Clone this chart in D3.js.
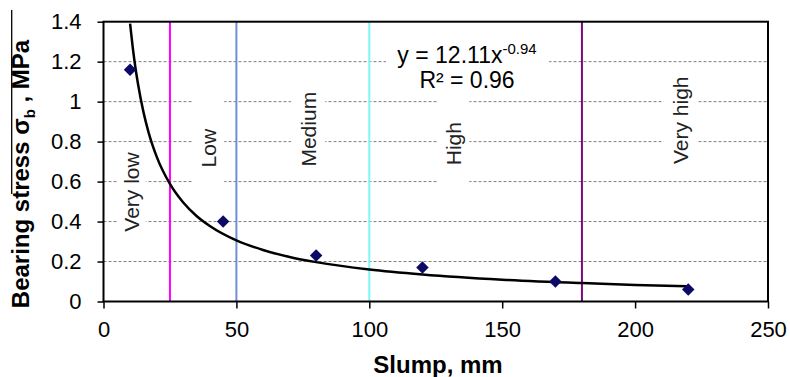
<!DOCTYPE html>
<html>
<head>
<meta charset="UTF-8">
<title>Bearing stress vs slump</title>
<script src="https://cdn.jsdelivr.net/npm/d3@7"></script>
<style>
body { margin: 0; background: #fff; }
svg { display: block; font-family: "Liberation Sans", Arial, sans-serif; }
.grid line { stroke: #808080; stroke-width: 1; stroke-dasharray: 3,2; }
.axis path { display: none; }
.axis line { stroke: #000; stroke-width: 1.5; }
.axis text { font-size: 22px; fill: #000; }
.label { font-size: 21px; fill: #222; }
</style>
</head>
<body>
<svg width="790" height="377"></svg>
<script>
// measured data points
var slump = [10, 45, 80, 120, 170, 220];
var stress = [1.16, 0.40, 0.23, 0.17, 0.10, 0.06];

// power trendline
var trendX = [10, 11, 12, 13, 15, 17, 20, 25, 30, 35, 40, 50, 60, 70, 80, 100, 120, 150, 180, 200, 220];
var trendY = [1.39, 1.271, 1.171, 1.087, 0.950, 0.844, 0.725, 0.588, 0.495, 0.428, 0.378, 0.306, 0.258, 0.223, 0.197, 0.160, 0.135, 0.109, 0.092, 0.083, 0.076];

// slump class boundaries and names
var classLimits = [25, 50, 100, 180];
var classNames = ["Very low", "Low", "Medium", "High", "Very high"];

var xTicks = [0, 50, 100, 150, 200, 250];
var yTicks = [0, 0.2, 0.4, 0.6, 0.8, 1, 1.2, 1.4];
var gridTicks = [0.2, 0.4, 0.6, 0.8, 1, 1.2];

// layout / style
var limitColors = ["#ff00ff", "#6f8fd6", "#7ff5f5", "#7a0a7a"];
var labelPos = [[10.7, 0.548], [39.4, 0.767], [77, 0.862], [131.6, 0.79], [217, 0.907]];
var labelPad = [[14, 16], [16, 17], [17, 38], [16, 28], [17, 42]];

var svg = d3.select("svg");
var x = d3.scaleLinear().domain([0, 250]).range([103.5, 768]);
var y = d3.scaleLinear().domain([0, 1.4]).range([301.5, 21.7]);

// gridlines
svg.append("g").attr("class", "grid")
  .selectAll("line").data(gridTicks).enter().append("line")
  .attr("x1", x(0)).attr("x2", x(250))
  .attr("y1", function(d){ return y(d); })
  .attr("y2", function(d){ return y(d); });

// white boxes behind the class labels
var labels = svg.append("g");
classNames.forEach(function(name, i){
  var cx = x(labelPos[i][0]), cy = y(labelPos[i][1]);
  labels.append("rect")
    .attr("x", cx - labelPad[i][0]).attr("width", 2 * labelPad[i][0])
    .attr("y", cy - 50).attr("height", 100)
    .attr("fill", "#fff");
  labels.append("text")
    .attr("class", "label")
    .attr("transform", "translate(" + cx + "," + cy + ") rotate(-90)")
    .attr("text-anchor", "middle")
    .attr("dy", "0.35em")
    .text(name);
});

// equation box
var eq = svg.append("g");
eq.append("rect").attr("x", 386).attr("y", 42).attr("width", 163).attr("height", 50).attr("fill", "#fff");
var t1 = eq.append("text").attr("x", 467).attr("y", 63).attr("text-anchor", "middle")
  .style("font-size", "23px");
t1.append("tspan").text("y = 12.11x");
t1.append("tspan").attr("dy", -9).style("font-size", "15px").text("-0.94");
eq.append("text").attr("x", 467).attr("y", 88).attr("text-anchor", "middle")
  .style("font-size", "23px").text("R\u00b2 = 0.96");

// class limit lines
svg.append("g").selectAll("line").data(classLimits).enter().append("line")
  .attr("x1", function(d){ return x(d); }).attr("x2", function(d){ return x(d); })
  .attr("y1", y(1.4)).attr("y2", y(0))
  .attr("stroke", function(d, i){ return limitColors[i]; })
  .attr("stroke-width", 2);

// trendline
svg.append("path")
  .attr("d", d3.line()
    .curve(d3.curveMonotoneX)
    .x(function(d, i){ return x(trendX[i]); })
    .y(function(d){ return y(d); })(trendY))
  .attr("fill", "none").attr("stroke", "#000").attr("stroke-width", 2.5);

// points (square turned 45 degrees, as in the original)
svg.append("g").selectAll("path").data(stress).enter().append("path")
  .attr("transform", function(d, i){ return "translate(" + x(slump[i]) + "," + y(d) + ") rotate(45)"; })
  .attr("d", d3.symbol().type(d3.symbolSquare).size(78))
  .attr("fill", "#0c0a66");

// frame
svg.append("rect")
  .attr("x", x(0)).attr("y", y(1.4))
  .attr("width", x(250) - x(0)).attr("height", y(0) - y(1.4))
  .attr("fill", "none").attr("stroke", "#000").attr("stroke-width", 2);

// axes
svg.append("g").attr("class", "axis")
  .attr("transform", "translate(0," + y(0) + ")")
  .call(d3.axisBottom(x).tickValues(xTicks).tickSize(7).tickPadding(13).tickFormat(d3.format("d")));
svg.append("g").attr("class", "axis")
  .attr("transform", "translate(" + x(0) + ",0)")
  .call(d3.axisLeft(y).tickValues(yTicks).tickSize(6).tickPadding(16).tickFormat(function(d){ return String(+d.toFixed(1)); }));
svg.selectAll(".axis text").attr("font-family", null).attr("font-size", null);

// axis titles
svg.append("text")
  .attr("x", 438).attr("y", 373)
  .attr("text-anchor", "middle")
  .style("font-size", "24px").style("font-weight", "bold")
  .text("Slump, mm");

var yt = svg.append("text")
  .attr("transform", "translate(29,174) rotate(-90)")
  .attr("text-anchor", "middle")
  .style("font-size", "24px").style("font-weight", "bold");
yt.append("tspan").text("Bearing stress \u03c3");
yt.append("tspan").attr("dy", 6).style("font-size", "15px").text("b");
yt.append("tspan").attr("dy", -6).text(" , MPa");
svg.append("line").attr("x1", 11.7).attr("x2", 11.7).attr("y1", 10).attr("y2", 194)
  .attr("stroke", "#000").attr("stroke-width", 1.3);
</script>
</body>
</html>
